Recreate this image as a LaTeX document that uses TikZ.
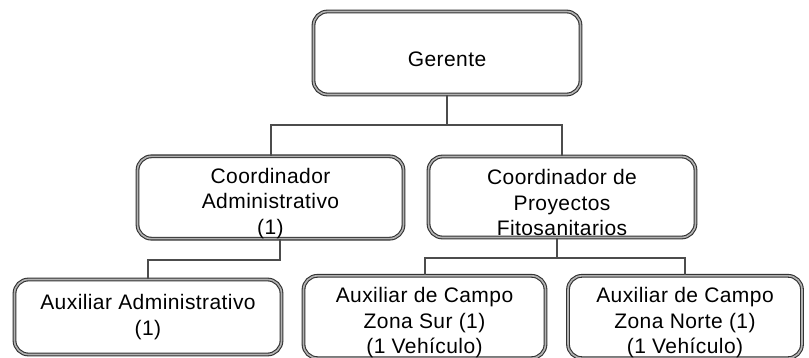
\documentclass[tikz,border=0pt]{standalone}
\usepackage{fontspec}
\setmainfont{Liberation Sans}[LetterSpace=2]
\newcommand{\lowstrut}{\rule{0pt}{27pt}}
\tikzset{
  orgbox/.style={draw=black!80, double=gray!60, double distance=1.6pt, line width=1.1pt,
    rounded corners=14pt, align=center, inner sep=0pt,
    font=\fontsize{21}{25.5}\selectfont},
  orgline/.style={draw=black!70, line width=2pt}
}
\begin{document}
\begin{tikzpicture}[x=1pt,y=-1pt]
	\useasboundingbox (0,0) rectangle (809,358);
	\node[orgbox, minimum width=267, minimum height=83] (ger) at (447,53) {\lowstrut Gerente};
	\node[orgbox, minimum width=266, minimum height=82] (cadm) at (270.5,197.5) {\lowstrut Coordinador\\Administrativo\\(1)};
	\node[orgbox, minimum width=267, minimum height=81] (cpro) at (562,197) {\lowstrut Coordinador de\\Proyectos\\Fitosanitarios};
	\node[orgbox, minimum width=267, minimum height=75] (aadm) at (148,317) {Auxiliar Administrativo\\(1)};
	\node[orgbox, minimum width=242, minimum height=75] (asur) at (424.5,317) {\lowstrut Auxiliar de Campo\\Zona Sur (1)\\(1 Vehículo)};
	\node[orgbox, minimum width=234, minimum height=75] (anor) at (685,317) {\lowstrut Auxiliar de Campo\\Zona Norte (1)\\(1 Vehículo)};

	\coordinate (j1) at (447,125);
	\coordinate (j2) at (280,260);
	\coordinate (j3) at (557,258);

	\draw[orgline] (ger.south) -- (j1) -| (cadm.north);
	\draw[orgline] (j1) -| (cpro.north);
	\draw[orgline] (cadm.south -| j2) -- (j2) -| (aadm.north);
	\draw[orgline] (cpro.south -| j3) -- (j3) -| (asur.north);
	\draw[orgline] (j3) -| (anor.north);
\end{tikzpicture}
\end{document}
